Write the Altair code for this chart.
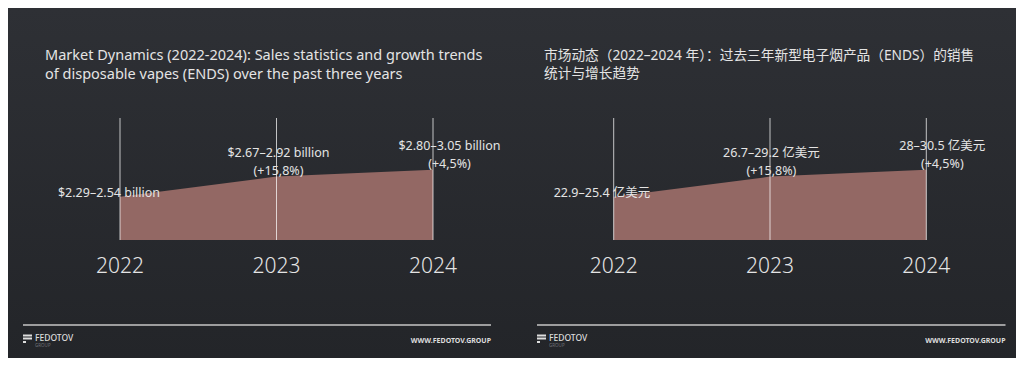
import altair as alt
import pandas as pd

# ---------------- data ----------------
years = [2022, 2023, 2024]
low_bn = [2.29, 2.67, 2.80]
high_bn = [2.54, 2.92, 3.05]
low_yi = [22.9, 26.7, 28.0]
high_yi = [25.4, 29.2, 30.5]
labels_en = ["$2.29–2.54 billion", "$2.67–2.92 billion", "$2.80–3.05 billion"]
labels_zh = ["22.9–25.4 亿美元", "26.7–29.2 亿美元", "28–30.5 亿美元"]
growth = ["", "(+15,8%)", "(+4,5%)"]
title_en = ["Market Dynamics (2022-2024): Sales statistics and growth trends",
            "of disposable vapes (ENDS) over the past three years"]
title_zh = ["市场动态（2022–2024 年）：过去三年新型电子烟产品（ENDS）的销售",
            "统计与增长趋势"]
brand = "FEDOTOV"
brand_sub = "GROUP"
site = "WWW.FEDOTOV.GROUP"

# ---------------- style ----------------
W, H = 504, 350
BG = "#2a2c30"
BG_TOP, BG_BOTTOM = "#2e3035", "#232529"
AREA = "#936864"
TEXT = "#e4e4e4"
FONT = "Noto Sans"
CJK = "'Noto Sans', 'Noto Sans CJK SC'"


def panel(low, high, labels, title, title_font, title_size, title_gap, xrange, y_domain,
          title_x, foot_x0, foot_x1, dxs, dys):
    df = pd.DataFrame({"year": years, "low": low, "high": high})
    df["mid"] = (df["low"] + df["high"]) / 2
    df["text"] = [l if g == "" else l + "\n" + g for l, g in zip(labels, growth)]

    x = alt.X("year:Q", scale=alt.Scale(domain=[2022, 2024], range=xrange), axis=None)
    yscale = alt.Scale(domain=y_domain, range=[232, 110])
    one = pd.DataFrame({"k": [0]})

    bg = alt.Chart(one).mark_rect(
        color=alt.LinearGradient(
            gradient="linear",
            stops=[alt.GradientStop(color=BG_TOP, offset=0),
                   alt.GradientStop(color=BG_BOTTOM, offset=1)],
            x1=0, x2=0, y1=0, y2=1)
    ).encode(x=alt.value(0), x2=alt.value(W), y=alt.value(0), y2=alt.value(H))

    base = alt.Chart(df)
    area = base.mark_area(color=AREA, opacity=1).encode(
        x=x,
        y=alt.Y("mid:Q", scale=yscale, axis=None),
        y2=alt.Y2(datum=y_domain[0]),
    )
    rules = base.mark_rule(color="#ffffff", opacity=0.72, strokeWidth=1).encode(
        x=x,
        y=alt.Y(datum=y_domain[1], type="quantitative", scale=yscale),
        y2=alt.Y2(datum=y_domain[0]),
    )
    year_txt = base.mark_text(
        dy=27, baseline="middle", align="center", fontSize=21, fontWeight=300,
        color=TEXT, font=FONT
    ).encode(
        x=x,
        y=alt.Y(datum=y_domain[0], type="quantitative", scale=yscale),
        text=alt.Text("year:Q", format="d"),
    )
    lab_layers = []
    for yr, dx, dy in zip(years, dxs, dys):
        lab_layers.append(
            base.transform_filter(alt.datum.year == yr).mark_text(
                align="center", baseline="bottom", lineBreak="\n", lineHeight=18,
                fontSize=12.5, color=TEXT, font=CJK, dx=dx, dy=dy
            ).encode(
                x=x,
                y=alt.Y("mid:Q", scale=yscale),
                text="text:N",
            )
        )

    title_marks = []
    for i, line in enumerate(title):
        title_marks.append(
            alt.Chart(one).mark_text(
                align="left", baseline="alphabetic",
                fontSize=title_size, color=TEXT, font=title_font, text=line
            ).encode(x=alt.value(title_x), y=alt.value(52 + title_gap * i))
        )

    foot_rule = alt.Chart(one).mark_rule(color="#c6c6c6", strokeWidth=1.5).encode(
        x=alt.value(foot_x0), x2=alt.value(foot_x1), y=alt.value(317))
    icon1 = alt.Chart(one).mark_rule(color="#dddddd", strokeWidth=2).encode(
        x=alt.value(foot_x0), x2=alt.value(foot_x0 + 9), y=alt.value(327.5))
    icon2 = alt.Chart(one).mark_rule(color="#dddddd", strokeWidth=2).encode(
        x=alt.value(foot_x0), x2=alt.value(foot_x0 + 9), y=alt.value(330.5))
    icon3 = alt.Chart(one).mark_rule(color="#dddddd", strokeWidth=2).encode(
        x=alt.value(foot_x0), x2=alt.value(foot_x0 + 3), y=alt.value(334))
    brand_t = alt.Chart(one).mark_text(
        align="left", baseline="alphabetic", fontSize=8.5, fontWeight=500,
        color="#dddddd", font=FONT, text=brand
    ).encode(x=alt.value(foot_x0 + 12), y=alt.value(333))
    brand_s = alt.Chart(one).mark_text(
        align="left", baseline="alphabetic", fontSize=4.5,
        color="#6e7075", font=FONT, text=brand_sub
    ).encode(x=alt.value(foot_x0 + 12), y=alt.value(339))
    site_t = alt.Chart(one).mark_text(
        align="right", baseline="alphabetic", fontSize=7, fontWeight="bold",
        color="#dddddd", font=FONT, text=site
    ).encode(x=alt.value(foot_x1), y=alt.value(334.5))

    return alt.layer(
        bg, area, rules, year_txt, *lab_layers, *title_marks,
        foot_rule, icon1, icon2, icon3, brand_t, brand_s, site_t
    ).properties(width=W, height=H)


left = panel(low_bn, high_bn, labels_en, title_en, FONT, 14.5, 18.5,
             [112, 425], [1.6, 3.9], 37, 15, 483, [-11, 2, 16.5], [3, -16.5, -17])
right = panel(low_yi, high_yi, labels_zh, title_zh, CJK, 13.7, 17.5,
              [101.7, 414.3], [16, 39], 32, 25, 493.5, [-11.7, 1.4, 16], [3, -16.5, -17])

chart = alt.hconcat(left, right, spacing=0).properties(
    padding=0, background=BG
).configure_view(stroke=None)

chart.save("out.html", embed_options={"renderer": "svg", "actions": False})
